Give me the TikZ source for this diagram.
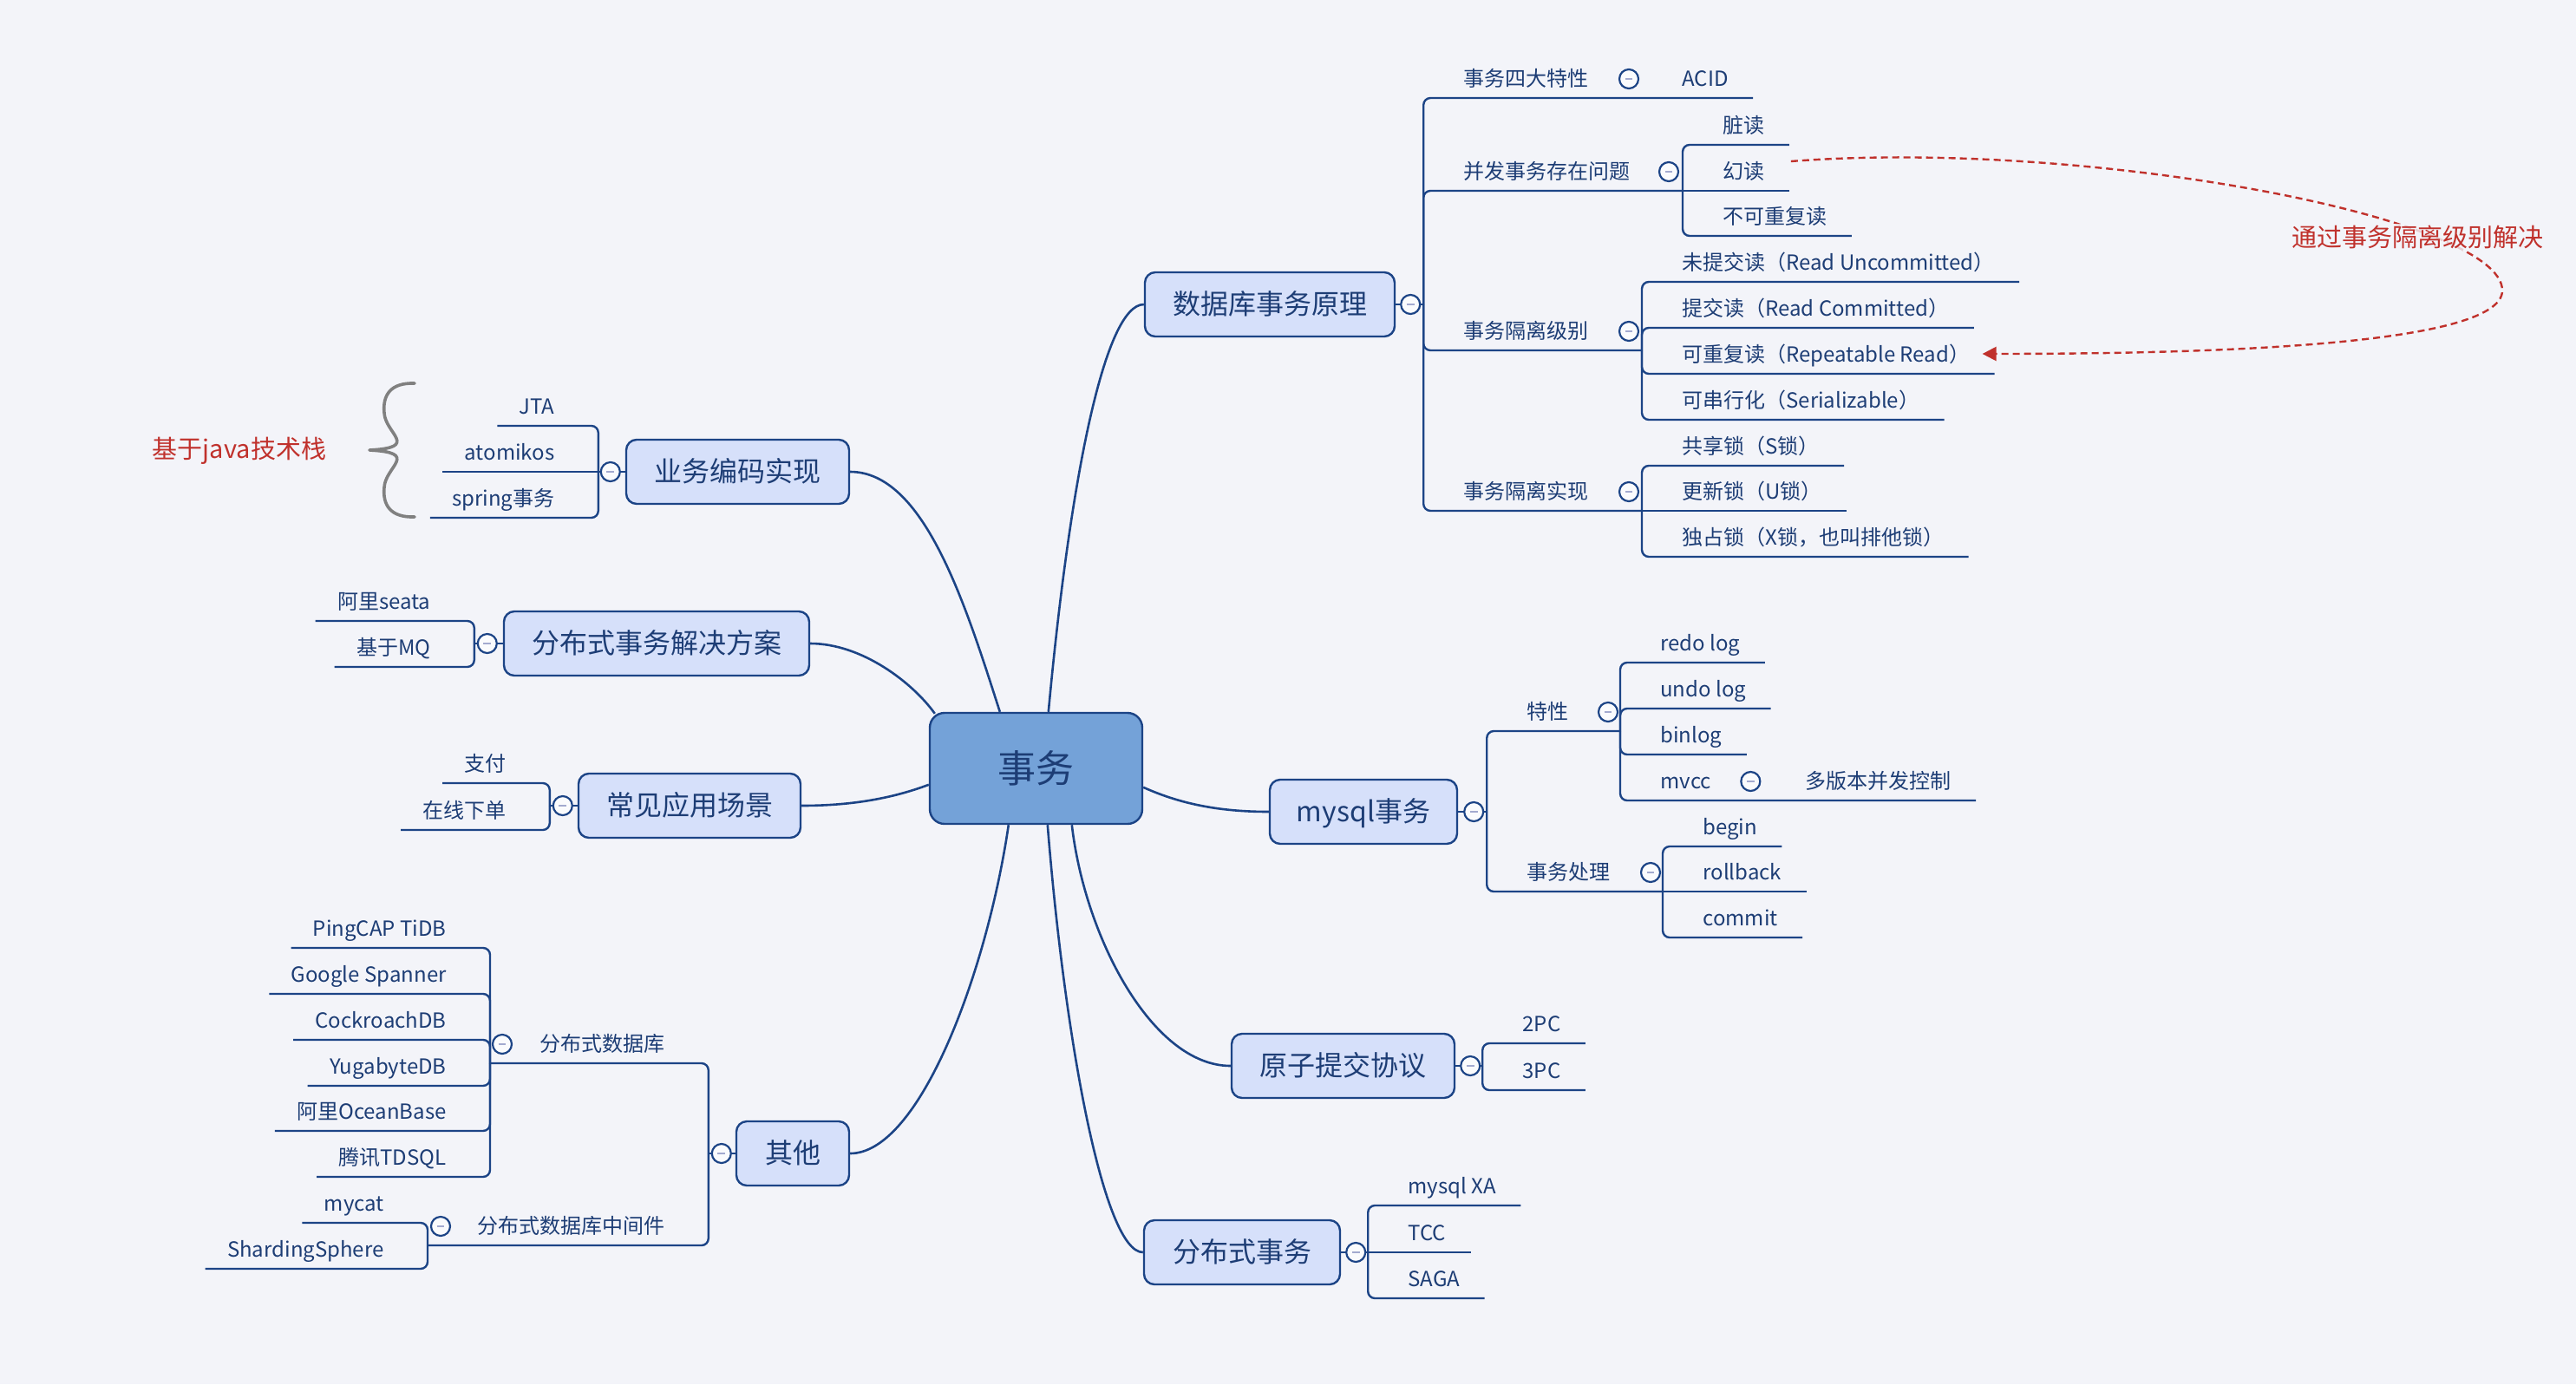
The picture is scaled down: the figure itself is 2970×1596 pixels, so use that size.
\documentclass[tikz,border=0pt]{standalone}
\usepackage{fontspec}
\setmainfont{Noto Sans CJK SC}
\usetikzlibrary{calc,arrows.meta}
\pgfdeclarelayer{bg}
\pgfsetlayers{bg,main}
\definecolor{mybg}{HTML}{F3F4F9}
\definecolor{navy}{HTML}{1C4486}
\definecolor{txtc}{HTML}{1D3D75}
\definecolor{lvfill}{HTML}{D6E0FA}
\definecolor{rootfill}{HTML}{74A2D8}
\definecolor{redc}{HTML}{C0312C}
\definecolor{minusc}{HTML}{A3AACF}
\definecolor{bracec}{HTML}{808080}
\tikzset{
 conn/.style={draw=navy, line width=1.2pt},
 curve/.style={draw=navy, line width=1.3pt},
 leaf/.style={inner sep=0pt, text=txtc, font=\fontsize{12pt}{14pt}\selectfont, text height=10.5pt, text depth=1.7pt},
 lvone/.style={draw=navy, line width=1.2pt, fill=lvfill, rounded corners=6pt, text=txtc, font=\fontsize{16pt}{19pt}\selectfont, minimum height=37pt, inner sep=0pt, text height=14pt, text depth=2.3pt},
 rootbox/.style={draw=navy, line width=1.2pt, fill=rootfill, rounded corners=8.5pt, text=txtc, font=\fontsize{22pt}{26pt}\selectfont, minimum width=122.5pt, minimum height=64pt, inner sep=0pt, text height=19.4pt, text depth=3.1pt},
 fold/.style={circle, draw=navy, line width=1.1pt, fill=mybg!40!white, minimum size=11pt, inner sep=0pt, path picture={\draw[minusc, line width=1.4pt] ([xshift=-2.2pt]path picture bounding box.center) -- ([xshift=2.2pt]path picture bounding box.center);}},
 redlab/.style={text=redc, inner sep=1pt},
}
\newcommand\rleaf[5]{%
 \node[leaf,anchor=west] (#1) at ($(#2 |- 0,#4)+(46,-22)$) {#5};
 \begin{pgfonlayer}{bg}\draw[conn,rounded corners=4pt] (#2 |- 0,#3) -- (#2 |- 0,#4) -- ($(#1.east)+(28,22)$);\end{pgfonlayer}}
\newcommand\rleafs[4]{%
 \node[leaf,anchor=west] (#1) at ($(#2 |- 0,#3)+(46,-22)$) {#4};
 \begin{pgfonlayer}{bg}\draw[conn] (#2 |- 0,#3) -- ($(#1.east)+(28,22)$);\end{pgfonlayer}}
\newcommand\lleaf[5]{%
 \node[leaf,anchor=east] (#1) at ($(#2 |- 0,#4)+(-50,-22)$) {#5};
 \begin{pgfonlayer}{bg}\draw[conn,rounded corners=4pt] (#2 |- 0,#3) -- (#2 |- 0,#4) -- ($(#1.west)+(-25,22)$);\end{pgfonlayer}}
\newcommand\lleafs[4]{%
 \node[leaf,anchor=east] (#1) at ($(#2 |- 0,#3)+(-50,-22)$) {#4};
 \begin{pgfonlayer}{bg}\draw[conn] (#2 |- 0,#3) -- ($(#1.west)+(-25,22)$);\end{pgfonlayer}}
\begin{document}
\begin{tikzpicture}[x=0.5pt,y=-0.5pt]
\begin{pgfonlayer}{bg}
\fill[mybg] (0,0) rectangle (2970,1596);
\end{pgfonlayer}
\useasboundingbox (0,0) rectangle (2970,1596);

% root and level one
\node[rootbox] (root) at (1194.5,886) {事务};
\node[lvone, minimum width=144pt] (db) at (1464,351) {数据库事务原理};
\node[lvone, minimum width=108pt] (mysql) at (1572,936) {mysql事务};
\node[lvone, minimum width=128.5pt] (atom) at (1548.5,1229) {原子提交协议};
\node[lvone, minimum width=113pt] (dist) at (1432,1444) {分布式事务};
\node[lvone, minimum width=65pt] (other) at (914,1330) {其他};
\node[lvone, minimum width=128pt] (app) at (795,929) {常见应用场景};
\node[lvone, minimum width=176pt] (dts) at (757,742) {分布式事务解决方案};
\node[lvone, minimum width=128.5pt] (biz) at (850.5,544) {业务编码实现};

% root connectors
\coordinate (rbiz) at ($(root.north west)+(82,0)$);
\coordinate (rdts) at ($(root.north west)+(7,2)$);
\coordinate (rapp) at ($(root.north west)+(0,84)$);
\coordinate (rdb) at ($(root.north west)+(138,0)$);
\coordinate (rmy) at ($(root.north east)+(0,87)$);
\coordinate (roth) at ($(root.south west)+(92,0)$);
\coordinate (rdist) at ($(root.south west)+(137,0)$);
\coordinate (ratom) at ($(root.south west)+(165,0)$);
\begin{pgfonlayer}{bg}
\draw[curve] (rbiz) .. controls +(-40,-125) and +(85,0) .. (biz.east);
\draw[curve] (rdts) .. controls +(-25,-35) and +(60,0) .. (dts.east);
\draw[curve] (rapp) .. controls +(-40,15) and +(60,0) .. (app.east);
\draw[curve] (rdb) .. controls +(25,-270) and +(-45,0) .. (db.west);
\draw[curve] (rmy) .. controls +(40,18) and +(-60,0) .. (mysql.west);
\draw[curve] (roth) .. controls +(-25,170) and +(80,0) .. (other.east);
\draw[curve] (rdist) .. controls +(20,250) and +(-45,0) .. (dist.west);
\draw[curve] (ratom) .. controls +(15,130) and +(-90,0) .. (atom.west);
\end{pgfonlayer}

% ---------- 数据库事务原理 ----------
\node[fold] (fdb) at ($(db.east)+(17,0)$) {};
\coordinate (sdb) at ($(db.east)+(32,0)$);
\begin{pgfonlayer}{bg}\draw[conn] (db.east) -- (sdb);\end{pgfonlayer}
\node[leaf,anchor=west] (a1) at ($(sdb |- 0,113)+(46,-22)$) {事务四大特性};
\node[fold] (fa1) at ($(a1.east)+(46,0)$) {};
\node[leaf,anchor=west] (a1c) at ($(fa1)+(61,0)$) {ACID};
\begin{pgfonlayer}{bg}\draw[conn,rounded corners=4pt] (sdb) -- (sdb |- 0,113) -- ($(a1c.east)+(28,22)$);\end{pgfonlayer}
\node[leaf,anchor=west] (a2) at ($(sdb |- 0,220)+(46,-22)$) {并发事务存在问题};
\node[fold] (fa2) at ($(a2.east)+(44,0)$) {};
\coordinate (sa2) at ($(fa2)+(16,22)$);
\begin{pgfonlayer}{bg}\draw[conn,rounded corners=4pt] (sdb) -- (sdb |- 0,220) -- (sa2);\end{pgfonlayer}
\rleaf{b1}{sa2}{220}{167}{脏读}
\rleafs{b2}{sa2}{220}{幻读}
\rleaf{b3}{sa2}{220}{272}{不可重复读}
\node[leaf,anchor=west] (a3) at ($(sdb |- 0,404)+(46,-22)$) {事务隔离级别};
\node[fold] (fa3) at ($(a3.east)+(46,0)$) {};
\coordinate (sa3) at ($(fa3)+(15,22)$);
\begin{pgfonlayer}{bg}\draw[conn,rounded corners=4pt] (sdb) -- (sdb |- 0,404) -- (sa3);\end{pgfonlayer}
\rleaf{c1}{sa3}{404}{325}{未提交读（Read Uncommitted）}
\rleaf{c2}{sa3}{404}{378}{提交读（Read Committed）}
\rleaf{c3}{sa3}{404}{431}{可重复读（Repeatable Read）}
\rleaf{c4}{sa3}{404}{484}{可串行化（Serializable）}
\node[leaf,anchor=west] (a4) at ($(sdb |- 0,589)+(46,-22)$) {事务隔离实现};
\node[fold] (fa4) at ($(a4.east)+(46,0)$) {};
\coordinate (sa4) at ($(fa4)+(15,22)$);
\begin{pgfonlayer}{bg}\draw[conn,rounded corners=4pt] (sdb) -- (sdb |- 0,589) -- (sa4);\end{pgfonlayer}
\rleaf{d1}{sa4}{589}{537}{共享锁（S锁）}
\rleafs{d2}{sa4}{589}{更新锁（U锁）}
\rleaf{d3}{sa4}{589}{642}{独占锁（X锁，也叫排他锁）}

% red dashed arrow
\coordinate (turn) at (2885,335);
\draw[redc, line width=1.2pt, dash pattern=on 4pt off 2.5pt, -{Triangle[length=8pt,width=8pt]}]
  ($(b2.east)+(30,-12)$) .. controls +(338,-26) and +(0,-85) .. (turn)
  .. controls +(0,65) and +(245,0) .. ($(c3.east)+(14,-1)$);
\node[redlab, font=\fontsize{14.5pt}{17pt}\selectfont, fill=mybg, fill opacity=0.8, text opacity=1] (lab) at (2787,273) {通过事务隔离级别解决};

% ---------- mysql事务 ----------
\node[fold] (fmy) at ($(mysql.east)+(18,0)$) {};
\coordinate (smy) at ($(mysql.east)+(33,0)$);
\begin{pgfonlayer}{bg}\draw[conn] (mysql.east) -- (smy);\end{pgfonlayer}
\node[leaf,anchor=west] (m1) at ($(smy |- 0,843)+(46,-22)$) {特性};
\node[fold] (fm1) at ($(m1.east)+(45,0)$) {};
\coordinate (sm1) at ($(fm1)+(14,22)$);
\begin{pgfonlayer}{bg}\draw[conn,rounded corners=4pt] (smy) -- (smy |- 0,843) -- (sm1);\end{pgfonlayer}
\rleaf{e1}{sm1}{843}{764}{redo log}
\rleaf{e2}{sm1}{843}{817}{undo log}
\rleaf{e3}{sm1}{843}{870}{binlog}
\node[leaf,anchor=west] (e4) at ($(sm1 |- 0,923)+(46,-22)$) {mvcc};
\node[fold] (fe4) at ($(e4.east)+(45,0)$) {};
\node[leaf,anchor=west] (e4c) at ($(fe4)+(63,0)$) {多版本并发控制};
\begin{pgfonlayer}{bg}\draw[conn,rounded corners=4pt] (sm1) -- (sm1 |- 0,923) -- ($(e4c.east)+(28,22)$);\end{pgfonlayer}
\node[leaf,anchor=west] (m2) at ($(smy |- 0,1028)+(46,-22)$) {事务处理};
\node[fold] (fm2) at ($(m2.east)+(46,0)$) {};
\coordinate (sm2) at ($(fm2)+(14,22)$);
\begin{pgfonlayer}{bg}\draw[conn,rounded corners=4pt] (smy) -- (smy |- 0,1028) -- (sm2);\end{pgfonlayer}
\rleaf{g1}{sm2}{1028}{976}{begin}
\rleafs{g2}{sm2}{1028}{rollback}
\rleaf{g3}{sm2}{1028}{1081}{commit}

% ---------- 原子提交协议 ----------
\node[fold] (fat) at ($(atom.east)+(17,0)$) {};
\coordinate (sat) at ($(atom.east)+(31,0)$);
\begin{pgfonlayer}{bg}\draw[conn] (atom.east) -- (sat);\end{pgfonlayer}
\rleaf{h1}{sat}{1229}{1203}{2PC}
\rleaf{h2}{sat}{1229}{1257}{3PC}

% ---------- 分布式事务 ----------
\node[fold] (fdi) at ($(dist.east)+(17,0)$) {};
\coordinate (sdi) at ($(dist.east)+(31,0)$);
\begin{pgfonlayer}{bg}\draw[conn] (dist.east) -- (sdi);\end{pgfonlayer}
\rleaf{k1}{sdi}{1444}{1390}{mysql XA}
\rleafs{k2}{sdi}{1444}{TCC}
\rleaf{k3}{sdi}{1444}{1497}{SAGA}

% ---------- 业务编码实现 ----------
\node[fold] (fbz) at ($(biz.west)+(-17,0)$) {};
\coordinate (sbz) at ($(biz.west)+(-31,0)$);
\begin{pgfonlayer}{bg}\draw[conn] (biz.west) -- (sbz);\end{pgfonlayer}
\lleaf{p1}{sbz}{544}{491}{JTA}
\lleafs{p2}{sbz}{544}{atomikos}
\lleaf{p3}{sbz}{544}{597}{spring事务}

% brace and label
\draw[bracec, line width=1.8pt, line cap=round, line join=round]
  (478,442) .. controls (450,441) and (441,456) .. (443,476)
  .. controls (444,500) and (485,516) .. (426,519)
  .. controls (485,522) and (444,538) .. (443,562)
  .. controls (441,582) and (450,597) .. (478,596);
\node[redlab, font=\fontsize{14.5pt}{17pt}\selectfont] (java) at (276,520) {基于java技术栈};

% ---------- 分布式事务解决方案 ----------
\node[fold] (fds) at ($(dts.west)+(-18,0)$) {};
\coordinate (sds) at ($(dts.west)+(-33,0)$);
\begin{pgfonlayer}{bg}\draw[conn] (dts.west) -- (sds);\end{pgfonlayer}
\lleaf{q1}{sds}{742}{716}{阿里seata}
\lleaf{q2}{sds}{742}{769}{基于MQ}

% ---------- 常见应用场景 ----------
\node[fold] (fap) at ($(app.west)+(-17,0)$) {};
\coordinate (sap) at ($(app.west)+(-32,0)$);
\begin{pgfonlayer}{bg}\draw[conn] (app.west) -- (sap);\end{pgfonlayer}
\lleaf{u1}{sap}{929}{903}{支付}
\lleaf{u2}{sap}{929}{957}{在线下单}

% ---------- 其他 ----------
\node[fold] (fot) at ($(other.west)+(-16,0)$) {};
\coordinate (sot) at ($(other.west)+(-31,0)$);
\begin{pgfonlayer}{bg}\draw[conn] (other.west) -- (sot);\end{pgfonlayer}
\node[leaf,anchor=east] (o1) at ($(sot |- 0,1226)+(-50,-22)$) {分布式数据库};
\node[fold] (fo1) at ($(o1.west)+(-43,0)$) {};
\coordinate (so1) at ($(fo1)+(-14,22)$);
\begin{pgfonlayer}{bg}\draw[conn,rounded corners=4pt] (sot) -- (sot |- 0,1226) -- (so1);\end{pgfonlayer}
\lleaf{v1}{so1}{1226}{1093}{PingCAP TiDB}
\lleaf{v2}{so1}{1226}{1146}{Google Spanner}
\lleaf{v3}{so1}{1226}{1199}{CockroachDB}
\lleaf{v4}{so1}{1226}{1252}{YugabyteDB}
\lleaf{v5}{so1}{1226}{1304}{阿里OceanBase}
\lleaf{v6}{so1}{1226}{1357}{腾讯TDSQL}
\node[leaf,anchor=east] (o2) at ($(sot |- 0,1436)+(-50,-22)$) {分布式数据库中间件};
\node[fold] (fo2) at ($(o2.west)+(-42,0)$) {};
\coordinate (so2) at ($(fo2)+(-15,22)$);
\begin{pgfonlayer}{bg}\draw[conn,rounded corners=4pt] (sot) -- (sot |- 0,1436) -- (so2);\end{pgfonlayer}
\lleaf{w1}{so2}{1436}{1410}{mycat}
\lleaf{w2}{so2}{1436}{1463}{ShardingSphere}
\end{tikzpicture}
\end{document}
